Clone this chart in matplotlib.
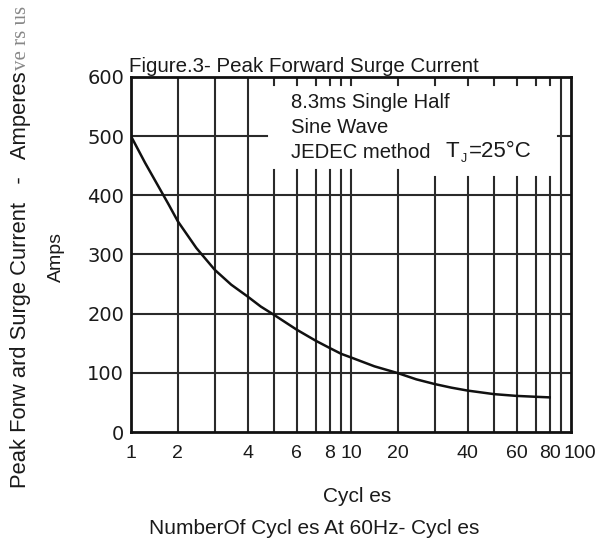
import numpy as np
import matplotlib
matplotlib.use("Agg")
import matplotlib.pyplot as plt
import matplotlib.transforms as mtransforms

# ---- data ----
cycles = [1, 1.3, 1.6, 1.8, 2, 2.5, 3, 3.5, 4, 4.5, 5, 6, 7, 8, 9, 10,
          15, 20, 25, 30, 35, 40, 45, 50, 60, 70, 80]
amps = [500, 455, 413, 385, 356, 311, 274, 249, 229, 212, 198, 173, 154, 142, 132, 126,
        111, 99.5, 89, 81, 75, 70, 67, 64, 61, 59.5, 58.5]

x_ticks = [1, 2, 4, 6, 8, 10, 20, 40, 60, 80, 100]
x_ticklabels = ["1", "2", "4", "6", "8", "10", "20", "40", "60", "80", "100"]
y_ticks = [0, 100, 200, 300, 400, 500, 600]

grid_full = [2, 3, 4, 90]
grid_mid = [5, 6, 7, 8, 9, 10, 20]
grid_short = [30, 40, 50, 60, 70, 80]

# the printed chart uses a hand drawn "log" paper, not a true log scale
DEC_M = [1, 2, 3, 4, 5, 6, 7, 8, 9, 10]
DEC_F = [0, 0.213, 0.381, 0.530, 0.650, 0.753, 0.841, 0.903, 0.956, 1.0]


def fwd(x):
    x = np.clip(np.asarray(x, dtype=float), 1e-6, None)
    d = np.floor(np.log10(x) + 1e-12)
    m = np.clip(x / 10.0 ** d, 1, 10)
    return d + np.interp(m, DEC_M, DEC_F)


def inv(y):
    y = np.asarray(y, dtype=float)
    d = np.floor(y)
    return np.interp(y - d, DEC_F, DEC_M) * 10.0 ** d


W, H = 595, 539
fig = plt.figure(figsize=(W / 100, H / 100), dpi=100)
fig.patch.set_facecolor("white")
plt.rcParams["font.family"] = ["Liberation Sans", "DejaVu Sans"]


def px(x, y):
    return x / W, 1 - y / H


ax = fig.add_axes([131 / W, 1 - 432 / H, 440 / W, 355 / H])
ax.set_xscale("function", functions=(fwd, inv))
ax.set_xlim(1, 100)
ax.set_ylim(0, 600)

gc = "#2a2a2a"
lw = 1.5
for v in grid_full:
    ax.axvline(v, color=gc, lw=lw, zorder=1)
for v in grid_mid:
    ax.axvline(v, ymin=0, ymax=0.738, color=gc, lw=lw, zorder=1)
    ax.axvline(v, ymin=0.977, ymax=1, color=gc, lw=lw, zorder=1)
for v in grid_short:
    ax.axvline(v, ymin=0, ymax=0.718, color=gc, lw=lw, zorder=1)
    ax.axvline(v, ymin=0.977, ymax=1, color=gc, lw=lw, zorder=1)
for v in [100, 200, 300, 400]:
    ax.axhline(v, color=gc, lw=lw, zorder=1)
ax.axhline(500, xmin=0, xmax=0.309, color=gc, lw=lw, zorder=1)
ax.axhline(500, xmin=0.970, xmax=1, color=gc, lw=lw, zorder=1)

ax.plot(cycles, amps, color="#111111", lw=1.8, zorder=3, solid_joinstyle="round")

for s in ax.spines.values():
    s.set_linewidth(2)
    s.set_color("#111111")

ax.set_xticks(x_ticks)
ax.set_xticklabels(x_ticklabels)
ax.xaxis.set_minor_locator(matplotlib.ticker.NullLocator())
ax.set_yticks(y_ticks)
ax.tick_params(axis="x", length=0, pad=9, labelsize=14, colors="#1a1a1a")
ax.tick_params(axis="y", length=0, pad=5, colors="#1a1a1a")
for lab in ax.get_yticklabels():
    lab.set_fontfamily("DejaVu Sans")
    lab.set_fontsize(14)
# last label sits a bit to the right on the original
lab100 = ax.get_xticklabels()[-1]
lab100.set_transform(lab100.get_transform() +
                     mtransforms.ScaledTranslation(9 / 100, 0, fig.dpi_scale_trans))

tc = "#1a1a1a"
fig.text(*px(129, 72), "Figure.3- Peak Forward Surge Current", fontsize=14.8,
         color=tc, va="baseline", ha="left")

fig.text(*px(291, 108), "8.3ms Single Half", fontsize=14.6, color=tc, va="baseline")
fig.text(*px(291, 133), "Sine Wave", fontsize=14.6, color=tc, va="baseline")
fig.text(*px(291, 158), "JEDEC method", fontsize=14.6, color=tc, va="baseline")
fig.text(*px(446, 157), "T", fontsize=16, color=tc, va="baseline")
fig.text(*px(461, 162), "J", fontsize=9, color=tc, va="baseline")
fig.text(*px(469, 157), "=25°C", fontsize=16, color=tc, va="baseline")

fig.text(*px(21, 488), "Peak Forw ard Surge Current   -   Amperes", fontsize=15.8,
         color=tc, rotation=90, ha="center", va="bottom")
fig.text(*px(22, 70), "ve rs us", fontsize=15, color="#888888", rotation=90,
         ha="center", va="bottom", family="Liberation Serif")
fig.text(*px(56, 257), "Amps", fontsize=14, color=tc, rotation=90,
         ha="center", va="center")

fig.text(*px(357, 497), "Cycl es", fontsize=15, color=tc, ha="center", va="center")
fig.text(*px(314, 529), "NumberOf Cycl es At 60Hz- Cycl es", fontsize=15,
         color=tc, ha="center", va="center")

fig.savefig("out.png", dpi=100, facecolor="white")
